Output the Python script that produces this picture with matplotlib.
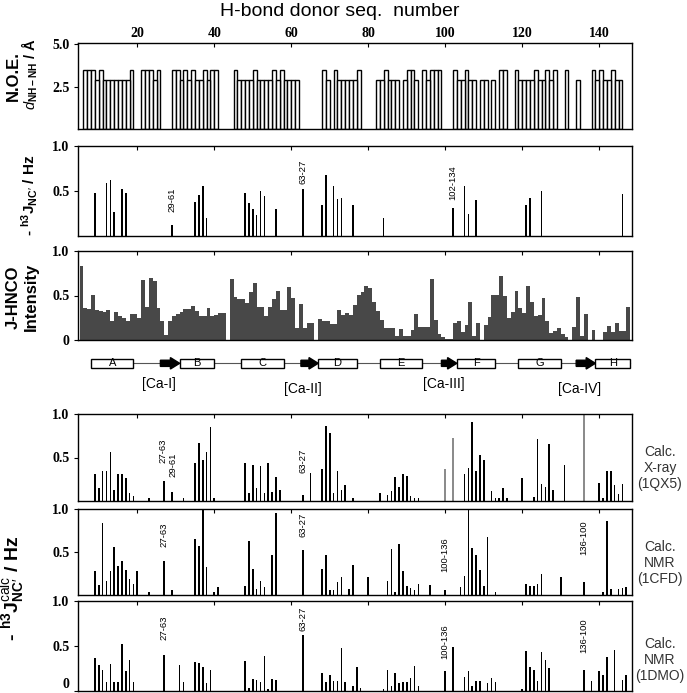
import matplotlib
matplotlib.use('Agg')
import matplotlib.pyplot as plt
from matplotlib.patches import Rectangle, FancyArrow

W, H = 687, 693

# ---- data (residue numbers / values) ----
# N.O.E. d(NH-NH): long (3.5 A) and short (2.9 A) classes
noe_long = [6, 7, 8, 10, 18, 21, 22, 23, 25, 29, 30, 32, 34, 37, 39, 40, 45, 50, 55, 57,
            68, 71, 77, 84, 90, 91, 94, 96, 97, 98, 102, 105, 114, 115, 118, 123, 126,
            128, 131, 138, 140, 143]
noe_short = [9, 11, 12, 13, 14, 15, 16, 17, 24, 31, 33, 35, 36, 38, 46, 47, 48, 49, 51, 52,
             53, 54, 56, 58, 59, 60, 61, 69, 72, 73, 74, 75, 76, 82, 83, 85, 86, 87, 89, 92,
             95, 103, 104, 106, 107, 109, 110, 112, 119, 120, 121, 122, 124, 125, 127, 134,
             139, 141, 142, 144, 145]
noe_long_d = 3.5
noe_short_d = 2.9

# observed -h3J(NC')
obs_res = [9, 12, 13, 14, 16, 17, 29, 35, 36, 37, 38, 48, 49, 50, 51, 52, 53, 56, 63, 68,
           69, 71, 72, 73, 76, 84, 102, 105, 106, 108, 121, 122, 125, 146]
obs_val = [0.48, 0.59, 0.62, 0.27, 0.52, 0.48, 0.13, 0.38, 0.46, 0.55, 0.20, 0.48, 0.37,
           0.30, 0.24, 0.50, 0.44, 0.30, 0.52, 0.35, 0.68, 0.56, 0.41, 0.42, 0.34, 0.20,
           0.31, 0.55, 0.25, 0.40, 0.35, 0.42, 0.50, 0.47]
obs_labels = [(29, 0.27, '29-61'), (63, 0.58, '63-27'), (102, 0.40, '102-134')]

# J-HNCO intensity, residues 5..147
hnco_first = 5
hnco = [0.83, 0.36, 0.35, 0.51, 0.34, 0.33, 0.31, 0.34, 0.21, 0.32,
        0.27, 0.25, 0.21, 0.29, 0.29, 0.25, 0.67, 0.37, 0.70, 0.66,
        0.36, 0.21, 0.06, 0.21, 0.27, 0.29, 0.32, 0.35, 0.35, 0.38,
        0.33, 0.27, 0.27, 0.36, 0.27, 0.28, 0.30, 0.30, 0.00, 0.68,
        0.48, 0.46, 0.46, 0.42, 0.54, 0.64, 0.37, 0.37, 0.27, 0.37,
        0.46, 0.55, 0.34, 0.34, 0.60, 0.47, 0.13, 0.40, 0.13, 0.19,
        0.19, 0.00, 0.24, 0.21, 0.21, 0.18, 0.18, 0.34, 0.28, 0.30,
        0.28, 0.39, 0.51, 0.54, 0.61, 0.58, 0.43, 0.33, 0.22, 0.14,
        0.14, 0.14, 0.04, 0.12, 0.05, 0.05, 0.11, 0.29, 0.15, 0.15,
        0.15, 0.68, 0.22, 0.07, 0.03, 0.01, 0.01, 0.19, 0.21, 0.09,
        0.17, 0.43, 0.04, 0.19, 0.00, 0.17, 0.26, 0.51, 0.51, 0.72,
        0.49, 0.25, 0.32, 0.55, 0.36, 0.30, 0.61, 0.43, 0.27, 0.28,
        0.47, 0.21, 0.08, 0.10, 0.13, 0.07, 0.03, 0.00, 0.15, 0.48,
        0.04, 0.29, 0.00, 0.11, 0.00, 0.00, 0.09, 0.16, 0.09, 0.19,
        0.10, 0.10, 0.37]

# calculated, X-ray 1QX5
xray_res = [9, 10, 11, 12, 13, 14, 15, 16, 17, 18, 19, 23, 27, 29, 32, 35, 36, 37, 38, 39,
            40, 48, 49, 50, 51, 52, 53, 54, 55, 56, 57, 63, 65, 68, 69, 70, 71, 72, 73, 74,
            76, 83, 85, 86, 87, 88, 89, 90, 91, 92, 93, 105, 106, 107, 108, 109, 110, 112,
            113, 114, 115, 116, 120, 123, 124, 125, 126, 127, 128, 131, 140, 141, 142, 143,
            144, 145, 146]
xray_val = [0.31, 0.15, 0.34, 0.34, 0.56, 0.13, 0.31, 0.31, 0.27, 0.09, 0.06, 0.04, 0.23,
            0.10, 0.04, 0.44, 0.67, 0.47, 0.56, 0.85, 0.04, 0.44, 0.09, 0.41, 0.15, 0.40,
            0.09, 0.44, 0.10, 0.28, 0.13, 0.07, 0.32, 0.37, 0.86, 0.78, 0.09, 0.34, 0.13,
            0.18, 0.03, 0.09, 0.07, 0.12, 0.28, 0.16, 0.31, 0.29, 0.06, 0.04, 0.03, 0.31,
            0.38, 0.91, 0.34, 0.53, 0.47, 0.12, 0.04, 0.03, 0.15, 0.04, 0.26, 0.05, 0.71,
            0.20, 0.16, 0.66, 0.13, 0.41, 0.21, 0.03, 0.34, 0.35, 0.18, 0.08, 0.20]
xray_gray_res = [100, 102, 136]
xray_gray_val = [0.37, 0.72, 1.0]
xray_labels = [(26.6, 0.44, '27-63'), (29.4, 0.28, '29-61'), (63, 0.32, '63-27')]

# calculated, NMR 1CFD
cfd_res = [9, 10, 11, 12, 13, 14, 15, 16, 17, 18, 19, 20, 23, 27, 29, 35, 36, 37, 38, 40,
           41, 48, 49, 50, 51, 52, 53, 55, 56, 63, 68, 69, 70, 71, 72, 73, 75, 76, 80, 85,
           86, 87, 88, 89, 90, 91, 92, 93, 96, 100, 104, 105, 106, 107, 108, 109, 110, 111,
           113, 121, 122, 123, 124, 125, 130, 136, 141, 142, 143, 145, 146, 147]
cfd_val = [0.28, 0.12, 0.84, 0.16, 0.28, 0.56, 0.34, 0.40, 0.29, 0.19, 0.13, 0.28, 0.03,
           0.40, 0.06, 0.65, 0.57, 1.05, 0.33, 0.03, 0.09, 0.11, 0.63, 0.30, 0.07, 0.16,
           0.09, 0.47, 0.95, 0.52, 0.30, 0.47, 0.06, 0.06, 0.15, 0.21, 0.07, 0.35, 0.21,
           0.16, 0.53, 0.03, 0.59, 0.28, 0.10, 0.08, 0.06, 0.13, 0.12, 0.06, 0.09, 0.22,
           1.05, 0.55, 0.46, 0.29, 0.10, 0.67, 0.03, 0.13, 0.11, 0.11, 0.13, 0.24, 0.21,
           0.15, 0.03, 0.86, 0.07, 0.07, 0.08, 0.09]
cfd_labels = [(27, 0.56, '27-63'), (63, 0.68, '63-27'), (100, 0.27, '100-136'),
              (136, 0.46, '136-100')]

# calculated, NMR 1DMO
dmo_res = [9, 10, 11, 12, 13, 14, 15, 16, 17, 18, 19, 27, 31, 32, 35, 36, 37, 38, 39, 48,
           49, 50, 51, 52, 53, 54, 55, 56, 63, 68, 69, 70, 71, 72, 73, 74, 76, 77, 78, 84,
           85, 86, 87, 88, 89, 90, 91, 92, 93, 100, 102, 105, 106, 107, 108, 109, 111, 112,
           113, 120, 121, 122, 123, 124, 125, 126, 127, 136, 138, 140, 141, 142, 144, 146,
           147]
dmo_val = [0.37, 0.29, 0.24, 0.10, 0.30, 0.10, 0.10, 0.52, 0.22, 0.35, 0.10, 0.40, 0.29,
           0.10, 0.33, 0.31, 0.27, 0.09, 0.24, 0.34, 0.04, 0.14, 0.13, 0.10, 0.39, 0.03,
           0.14, 0.12, 0.62, 0.20, 0.10, 0.18, 0.11, 0.11, 0.48, 0.10, 0.06, 0.27, 0.04,
           0.03, 0.24, 0.06, 0.20, 0.09, 0.10, 0.10, 0.15, 0.28, 0.06, 0.22, 0.49, 0.16,
           0.22, 0.06, 0.11, 0.11, 0.09, 0.15, 0.10, 0.03, 0.45, 0.27, 0.24, 0.11, 0.43,
           0.35, 0.26, 0.24, 0.11, 0.22, 0.18, 0.38, 0.46, 0.13, 0.18]
dmo_labels = [(27, 0.57, '27-63'), (63, 0.67, '63-27'), (100, 0.36, '100-136'),
              (136, 0.42, '136-100')]

# secondary structure schematic
helix_names = ['A', 'B', 'C', 'D', 'E', 'F', 'G', 'H']
helix_start = [8, 31, 47, 67, 83, 103, 119, 139]
helix_end = [19, 40, 58, 77, 94, 113, 130, 148]
arrow_start = [26, 62.5, 99, 134]
arrow_end = [31, 67, 103, 139]
ca_names = ['[Ca-I]', '[Ca-II]', '[Ca-III]', '[Ca-IV]']
ca_center = [25.5, 63, 99.5, 135]

x_ticks = [20, 40, 60, 80, 100, 120, 140]

# ---- figure ----
plt.rcParams['font.family'] = 'Liberation Sans'
plt.rcParams['mathtext.fontset'] = 'custom'
plt.rcParams['mathtext.rm'] = 'Liberation Sans'
plt.rcParams['mathtext.it'] = 'Liberation Sans:italic'
plt.rcParams['mathtext.bf'] = 'Liberation Sans:bold'

fig = plt.figure(figsize=(W / 100, H / 100), dpi=100)
XL, XR = 78, 632
XLIM = (4.6, 148.5)
STICK = 0.42


def rect(t, b):
    return [XL / W, 1 - b / H, (XR - XL) / W, (b - t) / H]


def setup(ax, ylim, yticks, ylabels):
    ax.set_xlim(*XLIM)
    ax.set_ylim(*ylim)
    ax.set_xticks(x_ticks)
    ax.tick_params(axis='x', top=True, bottom=False, labelbottom=False, labeltop=False,
                   direction='in', length=3, width=0.8)
    ax.set_yticks(yticks)
    ax.set_yticklabels(ylabels, family='Liberation Serif', weight='bold', size=10)
    ax.tick_params(axis='y', direction='out', length=3, width=0.8, pad=3)
    for s in ax.spines.values():
        s.set_linewidth(1.0)


def fig_text(x, y, s, **kw):
    fig.text(x / W, 1 - y / H, s, **kw)


def pair_labels(ax, labels):
    for r, y, s in labels:
        ax.text(r, y, s, rotation=90, ha='center', va='bottom', fontsize=6.8)


# panel 1: NOE
ax1 = fig.add_axes(rect(42.7, 129))
ax1.bar(noe_long, [noe_long_d] * len(noe_long), width=1, align='edge',
        color='white', edgecolor='black', linewidth=1.0)
ax1.bar(noe_short, [noe_short_d] * len(noe_short), width=1, align='edge',
        color='white', edgecolor='black', linewidth=1.0)
setup(ax1, (0, 5.1), [2.5, 5.0], ['2.5', '5.0'])
ax1.tick_params(axis='x', labeltop=True, pad=2)
for lab in ax1.get_xticklabels():
    lab.set_family('Liberation Serif')
    lab.set_weight('bold')
    lab.set_size(10)

# panel 2: observed
ax2 = fig.add_axes(rect(145.7, 236.3))
ax2.bar(obs_res, obs_val, width=STICK, color='black')
setup(ax2, (0, 1), [0.5, 1.0], ['0.5', '1.0'])
pair_labels(ax2, obs_labels)

# panel 3: J-HNCO intensity
ax3 = fig.add_axes(rect(251, 340))
ax3.bar(range(hnco_first, hnco_first + len(hnco)), hnco, width=1, align='edge',
        color='#484848', linewidth=0)
setup(ax3, (0, 1), [0, 0.5, 1.0], ['0', '0.5', '1.0'])

# schematic
axs = fig.add_axes(rect(352, 396))
axs.set_xlim(*XLIM)
axs.set_ylim(0, 1)
axs.axis('off')
yc = 0.743
axs.plot([helix_start[0], helix_end[-1]], [yc, yc], color='#555555', lw=0.8, zorder=1)
for name, a, b in zip(helix_names, helix_start, helix_end):
    axs.add_patch(Rectangle((a, yc - 0.1), b - a, 0.2, facecolor='white',
                            edgecolor='black', lw=1.0, zorder=2))
    axs.text((a + b) / 2, yc, name, ha='center', va='center', fontsize=8, zorder=3)
for a, b in zip(arrow_start, arrow_end):
    axs.add_patch(FancyArrow(a, yc, b - a, 0, width=0.14, head_width=0.26,
                             head_length=2.4, length_includes_head=True,
                             color='black', zorder=3))
for i, (name, c) in enumerate(zip(ca_names, ca_center)):
    axs.text(c, 0.266 if i % 2 == 0 else 0.152, name, ha='center', va='center',
             fontsize=10)

# panel 4: X-ray
ax4 = fig.add_axes(rect(414, 501))
ax4.bar(xray_res, xray_val, width=STICK, color='black')
ax4.bar(xray_gray_res, xray_gray_val, width=STICK, color='#8c8c8c')
setup(ax4, (0, 1), [0.5, 1.0], ['0.5', '1.0'])
pair_labels(ax4, xray_labels)

# panel 5: 1CFD
ax5 = fig.add_axes(rect(509, 595))
ax5.bar(cfd_res, cfd_val, width=STICK, color='black')
setup(ax5, (0, 1), [0.5, 1.0], ['0.5', '1.0'])
pair_labels(ax5, cfd_labels)

# panel 6: 1DMO
ax6 = fig.add_axes(rect(601, 691.3))
ax6.bar(dmo_res, dmo_val, width=STICK, color='black')
setup(ax6, (0, 1), [0, 0.5, 1.0], ['0', '0.5', '1.0'])
ax6.get_yticklabels()[0].set_va('bottom')
pair_labels(ax6, dmo_labels)

# texts
fig_text(340, 11, 'H-bond donor seq.  number', ha='center', va='center', fontsize=14)
fig_text(13, 76, 'N.O.E.', rotation=90, ha='center', va='center', fontsize=12,
         weight='bold')
fig_text(30, 74, r'$d_{\mathbf{NH-NH}}$ / Å', rotation=90, ha='center', va='center',
         fontsize=10.5, weight='bold')
fig_text(30, 195, r"- $^{\mathbf{h3}}\mathbf{J}_{\mathbf{NC}\prime}$ / Hz", rotation=90,
         ha='center', va='center', fontsize=11, weight='bold')
fig_text(13, 297, 'J-HNCO', rotation=90, ha='center', va='center', fontsize=12,
         weight='bold')
fig_text(31, 297, 'Intensity', rotation=90, ha='center', va='center', fontsize=12,
         weight='bold')
fig_text(13, 588, r"- $^{\mathbf{h3}}\mathbf{J}^{\mathrm{calc}}_{\mathbf{NC}\prime}$ / Hz",
         rotation=90, ha='center', va='center', fontsize=14, weight='bold')
for yy, s in [(468, 'Calc.\nX-ray\n(1QX5)'), (563, 'Calc.\nNMR\n(1CFD)'),
              (660, 'Calc.\nNMR\n(1DMO)')]:
    fig_text(660, yy, s, ha='center', va='center', fontsize=10, color='#333333',
             linespacing=1.15)

fig.savefig('out.png', dpi=100)
